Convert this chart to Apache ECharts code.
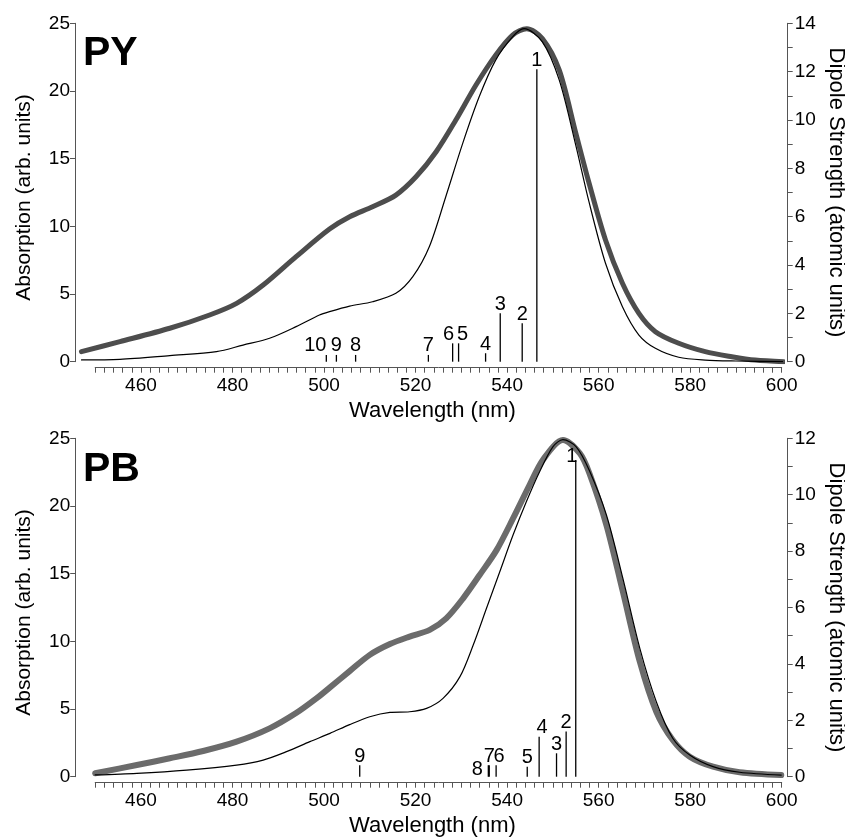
<!DOCTYPE html>
<html>
<head>
<meta charset="utf-8">
<title>PY / PB absorption spectra</title>
<script src="https://cdn.jsdelivr.net/npm/echarts@6/dist/echarts.min.js"></script>
<style>
  html, body { margin: 0; padding: 0; background: #fff; }
  #main { width: 845px; height: 837px; }
</style>
</head>
<body>
<div id="main"></div>
<script>
// ---- PY panel ----
// experimental absorption (thick grey curve)
const pyExpNm  = [447.0, 455.4, 466.3, 475.0, 480.9, 486.7, 493.9, 501.2, 505.6, 510.6, 515.7, 520.1, 524.5, 528.8, 533.2, 537.5, 541.2, 544.3, 547.7, 551.4, 555.0, 557.9, 561.5, 565.2, 568.8, 572.4, 577.5, 583.3, 589.1, 594.2, 600.4];
const pyExpAbs = [0.74, 1.48, 2.47, 3.45, 4.31, 5.66, 7.76, 9.8, 10.71, 11.45, 12.31, 13.66, 15.51, 17.85, 20.44, 22.65, 24.13, 24.6, 23.88, 21.54, 16.9, 13.2, 8.99, 5.79, 3.57, 2.22, 1.36, 0.74, 0.37, 0.12, 0];
// calculated spectrum (thin black curve)
const pyCalcNm  = [447.0, 455.4, 466.3, 476.5, 482.3, 488.1, 493.9, 499.0, 501.2, 505.6, 510.6, 515.7, 519.4, 523.0, 526.6, 530.3, 533.9, 537.5, 541.2, 543.7, 547.7, 551.4, 555.0, 557.9, 561.5, 565.2, 568.8, 572.4, 577.5, 583.3, 590.0, 600.4];
const pyCalcAbs = [0.13, 0.17, 0.45, 0.74, 1.23, 1.73, 2.59, 3.45, 3.7, 4.11, 4.43, 5.05, 6.28, 8.49, 12.19, 16.13, 19.57, 22.28, 24.0, 24.6, 23.63, 20.8, 16.0, 11.8, 7.27, 4.06, 1.97, 0.99, 0.33, 0.12, 0.05, 0];
// transitions: wavelength, dipole strength, number
const pyStickNm  = [546.5, 543.3, 538.5, 535.3, 529.4, 528.1, 522.8, 506.9, 502.7, 500.5];
const pyStickStr = [12.1, 1.59, 2.0, 0.35, 0.76, 0.76, 0.28, 0.28, 0.28, 0.28];
const pyStickLab = ['1', '2', '3', '4', '5', '6', '7', '8', '9', '10'];

// ---- PB panel ----
const pbExpNm  = [450.0, 459.1, 466.3, 473.6, 480.9, 488.1, 493.9, 498.4, 501.3, 505.6, 510.0, 514.4, 518.7, 523.1, 526.7, 530.4, 534.0, 537.7, 541.3, 544.9, 547.8, 552.2, 555.9, 558.0, 561.7, 565.3, 569.0, 572.6, 576.2, 579.9, 585.0, 590.8, 599.9];
const pbExpAbs = [0.25, 0.86, 1.36, 1.9, 2.59, 3.57, 4.7, 5.8, 6.6, 7.8, 9.0, 9.8, 10.35, 10.85, 11.7, 13.18, 14.9, 16.74, 19.08, 21.54, 23.4, 24.87, 23.88, 22.4, 18.59, 13.66, 8.49, 4.8, 2.71, 1.48, 0.74, 0.33, 0.12];
const pbCalcNm  = [450.0, 459.1, 470.0, 480.9, 486.7, 491.8, 496.9, 501.3, 505.6, 510.0, 514.4, 518.7, 522.4, 526.0, 529.7, 532.6, 535.5, 538.4, 541.3, 544.2, 547.1, 550.0, 552.2, 555.1, 558.0, 561.7, 565.3, 569.0, 572.6, 576.2, 579.9, 585.0, 590.8, 599.9];
const pbCalcAbs = [0.13, 0.25, 0.49, 0.86, 1.23, 1.85, 2.59, 3.2, 3.85, 4.43, 4.75, 4.8, 5.05, 5.79, 7.39, 9.73, 12.44, 15.14, 17.85, 20.31, 22.53, 24.37, 24.9, 24.37, 22.6, 19.33, 14.65, 9.48, 5.54, 2.84, 1.6, 0.74, 0.33, 0.12];
const pbStickNm  = [555.0, 552.9, 550.8, 547.0, 544.4, 537.6, 536.1, 535.9, 507.8];
const pbStickStr = [11.23, 1.6, 0.83, 1.42, 0.35, 0.41, 0.41, 0.41, 0.41];
const pbStickLab = ['1', '2', '3', '4', '5', '6', '7', '8', '9'];

const FONT = '"Liberation Sans", Arial, sans-serif';
const AXIS = '#555';

// small pixel nudges so crowded stick numbers don't sit on each other
const pyNudge = { '10': [-11, 0], '6': [-4, 0], '5': [4, 0] };
const pbNudge = { '8': [-11, 13], '6': [3, 0], '4': [3, 0], '1': [-4, 5] };

function pairs(xs, ys) {
  return xs.map((x, i) => [x, ys[i]]);
}

function xAxisFor(g) {
  return {
    type: 'value', gridIndex: g, min: 450, max: 600, interval: 10, offset: 6,
    name: 'Wavelength (nm)', nameLocation: 'middle', nameGap: 32,
    nameTextStyle: { fontFamily: FONT, fontSize: 22, color: '#000', padding: [0, 12, 0, 0] },
    axisLine: { show: true, onZero: false, lineStyle: { color: AXIS, width: 1 } },
    axisTick: { show: true, length: 5, lineStyle: { color: AXIS } },
    minorTick: { show: true, splitNumber: 5, length: 5, lineStyle: { color: AXIS } },
    axisLabel: {
      fontFamily: FONT, fontSize: 19, color: '#000', margin: 9,
      formatter: v => (v % 20 === 0 && v > 450) ? String(v) : ''
    },
    splitLine: { show: false }
  };
}

function leftAxisFor(g, offset) {
  return {
    type: 'value', gridIndex: g, position: 'left', min: 0, max: 25, interval: 5, offset: offset,
    name: 'Absorption (arb. units)', nameLocation: 'middle', nameGap: 40, nameRotate: 90,
    nameTextStyle: { fontFamily: FONT, fontSize: 21, color: '#000', padding: [0, 10, 0, 0] },
    axisLine: { show: true, onZero: false, lineStyle: { color: AXIS, width: 1 } },
    axisTick: { show: true, length: 5, lineStyle: { color: AXIS } },
    axisLabel: { fontFamily: FONT, fontSize: 19, color: '#000', margin: 5 },
    splitLine: { show: false }
  };
}

function rightAxisFor(g, max) {
  return {
    type: 'value', gridIndex: g, position: 'right', min: 0, max: max, interval: 2, offset: 6,
    name: 'Dipole Strength (atomic units)', nameLocation: 'middle', nameGap: 37, nameRotate: -90,
    nameMoveOverlap: false,
    nameTextStyle: { fontFamily: FONT, fontSize: 22, color: '#000' },
    axisLine: { show: true, onZero: false, lineStyle: { color: AXIS, width: 1 } },
    axisTick: { show: true, length: 5, lineStyle: { color: AXIS } },
    minorTick: { show: true, splitNumber: 2, length: 5, lineStyle: { color: AXIS } },
    axisLabel: { fontFamily: FONT, fontSize: 19, color: '#000', margin: 7 },
    splitLine: { show: false }
  };
}

function curve(xIdx, yIdx, xs, ys, color, width, z) {
  return {
    type: 'line', xAxisIndex: xIdx, yAxisIndex: yIdx, data: pairs(xs, ys),
    smooth: 0.3, showSymbol: false, silent: true, z: z,
    lineStyle: { color: color, width: width, cap: 'round', join: 'round' }
  };
}

function sticks(xIdx, yIdx, xs, ys, labels, nudge) {
  return {
    type: 'custom', xAxisIndex: xIdx, yAxisIndex: yIdx, data: pairs(xs, ys), z: 5, silent: true,
    encode: { x: 0, y: 1 },
    renderItem: function (params, api) {
      const base = api.coord([api.value(0), 0]);
      const tip = api.coord([api.value(0), api.value(1)]);
      const lab = labels[params.dataIndex];
      const n = nudge[lab] || [0, 0];
      return {
        type: 'group',
        children: [
          { type: 'line', shape: { x1: base[0], y1: base[1], x2: tip[0], y2: tip[1] },
            style: { stroke: '#000', lineWidth: 1.3 } },
          { type: 'text', x: tip[0] + n[0], y: tip[1] + 1 + n[1],
            style: { text: lab, fill: '#000', fontSize: 20, fontFamily: FONT, align: 'center', verticalAlign: 'bottom' } }
        ]
      };
    }
  };
}

// the PY spectra start a little left of 450 nm, so they live on a wider hidden
// axis (same px/nm) while the visible wavelength axis sits in its own grid
const chart = echarts.init(document.getElementById('main'));
chart.setOption({
  animation: false,
  backgroundColor: '#fff',
  grid: [
    { left: 81.47, top: 23.3, width: 700.23, height: 338.4, outerBoundsMode: 'none' },
    { left: 95.2, top: 23.3, width: 686.5, height: 338.4, outerBoundsMode: 'none' },
    { left: 95.2, top: 438.3, width: 686.5, height: 338.4, outerBoundsMode: 'none' }
  ],
  xAxis: [
    { type: 'value', gridIndex: 0, min: 447, max: 600, show: false },
    xAxisFor(1),
    xAxisFor(2)
  ],
  yAxis: [
    leftAxisFor(0, 6.5),
    rightAxisFor(0, 14),
    { type: 'value', gridIndex: 1, min: 0, max: 25, show: false },
    leftAxisFor(2, 20),
    rightAxisFor(2, 12)
  ],
  graphic: [
    { type: 'text', left: 83, top: 33, style: { text: 'PY', fontSize: 41, fontWeight: 'bold', fontFamily: FONT, fill: '#000' } },
    { type: 'text', left: 83, top: 449, style: { text: 'PB', fontSize: 41, fontWeight: 'bold', fontFamily: FONT, fill: '#000' } }
  ],
  series: [
    curve(0, 0, pyExpNm, pyExpAbs, '#4d4d4d', 5, 2),
    curve(0, 0, pyCalcNm, pyCalcAbs, '#000', 1.2, 3),
    sticks(0, 1, pyStickNm, pyStickStr, pyStickLab, pyNudge),
    curve(2, 3, pbExpNm, pbExpAbs, '#6b6b6b', 6, 2),
    curve(2, 3, pbCalcNm, pbCalcAbs, '#000', 1.2, 3),
    sticks(2, 4, pbStickNm, pbStickStr, pbStickLab, pbNudge)
  ]
});
</script>
</body>
</html>
